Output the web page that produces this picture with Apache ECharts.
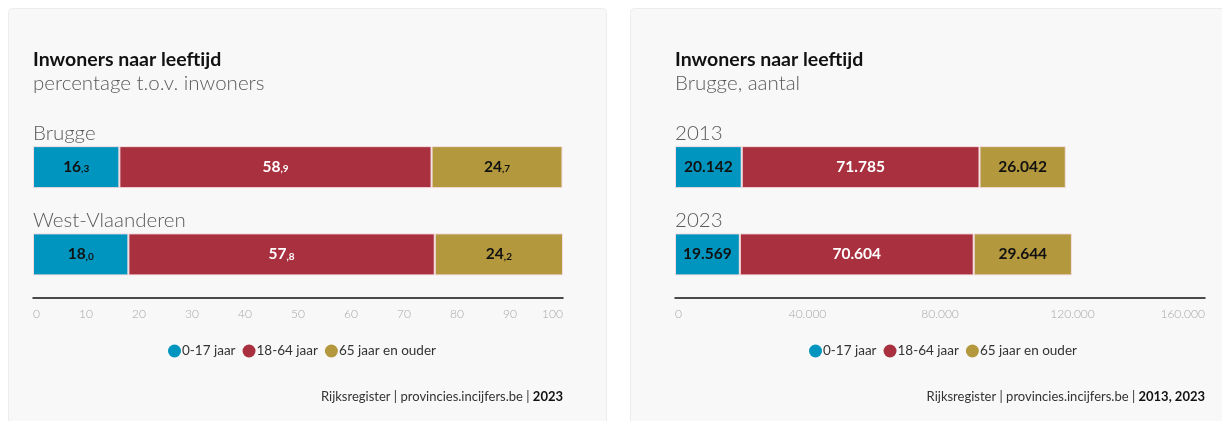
<!DOCTYPE html>
<html>
<head>
<meta charset="utf-8">
<script src="https://cdn.jsdelivr.net/npm/echarts@6/dist/echarts.min.js"></script>
<style>
  html, body { margin: 0; padding: 0; background: #ffffff; }
  #chart { width: 1222px; height: 421px; }
</style>
</head>
<body>
<div id="chart"></div>
<script>
// Age groups (series)
const ageGroups = ['0-17 jaar', '18-64 jaar', '65 jaar en ouder'];
const ageColors = ['#0095bf', '#a8303f', '#b3983d'];
const ageLabelColors = ['#111111', '#ffffff', '#111111'];

// Left chart: share of inhabitants (%)
const pctCategories = ['Brugge', 'West-Vlaanderen'];
const pctYoung = [16.3, 18.0];
const pctAdult = [58.9, 57.8];
const pctSenior = [24.7, 24.2];
const pctTicks = [0, 10, 20, 30, 40, 50, 60, 70, 80, 90, 100];

// Right chart: Brugge, absolute counts
const cntCategories = ['2013', '2023'];
const cntYoung = [20142, 19569];
const cntAdult = [71785, 70604];
const cntSenior = [26042, 29644];
const cntTicks = [0, 40000, 80000, 120000, 160000];

const FONT = 'Lato, "Open Sans", sans-serif';

function dots(n) {
  return String(Math.round(n)).replace(/\B(?=(\d{3})+(?!\d))/g, '.');
}
function pctLabel(v) {
  const s = v.toFixed(1).split('.');
  return '{a|' + s[0] + '}{b|,' + s[1] + '}';
}

function makeSeries(values, gridIdx, isPct) {
  return values.map((data, i) => ({
    name: ageGroups[i],
    type: 'bar',
    stack: 'g' + gridIdx,
    xAxisIndex: gridIdx,
    yAxisIndex: gridIdx,
    barWidth: 42,
    data: data,
    itemStyle: { color: ageColors[i], borderColor: '#f4dde0', borderWidth: 1 },
    label: {
      show: true,
      position: 'inside',
      formatter: p => isPct ? pctLabel(p.value) : dots(p.value),
      color: ageLabelColors[i],
      fontFamily: FONT,
      fontWeight: 'bold',
      fontSize: 15.5,
      rich: {
        a: { color: ageLabelColors[i], fontFamily: FONT, fontWeight: 'bold', fontSize: 15.5 },
        b: { color: ageLabelColors[i], fontFamily: FONT, fontWeight: 'bold', fontSize: 10, padding: [4, 0, 0, 0] }
      }
    },
    emphasis: { disabled: true }
  }));
}

function xAxis(gridIdx, interval, ticks, fmt) {
  return {
    gridIndex: gridIdx,
    type: 'value',
    min: ticks[0], max: ticks[ticks.length - 1], interval: interval,
    axisLine: { show: true, onZero: false, lineStyle: { color: '#111', width: 1.5 } },
    axisTick: { show: false },
    splitLine: { show: false },
    axisLabel: {
      color: '#a8a8a8', fontFamily: FONT, fontSize: 12, fontWeight: 300, margin: 10,
      alignMinLabel: 'left', alignMaxLabel: 'right',
      formatter: fmt
    }
  };
}

function yAxis(gridIdx, cats) {
  return {
    gridIndex: gridIdx,
    type: 'category',
    inverse: true,
    data: cats,
    axisLine: { show: false },
    axisTick: { show: false },
    axisLabel: {
      inside: true, margin: 0, align: 'left', verticalAlign: 'bottom',
      padding: [0, 0, 23, 0],
      color: '#5a5a5a', fontFamily: FONT, fontSize: 20.5, fontWeight: 300
    }
  };
}

function legend(left) {
  return {
    left: left, top: 344, padding: 0,
    icon: 'circle', itemWidth: 13, itemHeight: 13, itemGap: 7,
    selectedMode: false,
    itemStyle: { borderWidth: 0 },
    textStyle: { color: '#333', fontFamily: FONT, fontSize: 13.5, padding: [0, 0, 0, -4] },
    data: ageGroups
  };
}

const sourceStyle = {
  color: '#333', fontFamily: FONT, fontSize: 13, fontWeight: 'normal',
  rich: { b: { color: '#111', fontFamily: FONT, fontSize: 13, fontWeight: 'bold' } }
};
const headStyle = { color: '#111', fontFamily: FONT, fontSize: 19.5, fontWeight: 'bold' };
const subStyle = { color: '#5a5a5a', fontFamily: FONT, fontSize: 20.5, fontWeight: 300 };

const chart = echarts.init(document.getElementById('chart'), null, { renderer: 'canvas' });
chart.setOption({
  animation: false,
  backgroundColor: '#ffffff',
  graphic: [
    { type: 'rect', shape: { x: 8.5, y: 8.5, width: 598, height: 440, r: 4 }, z: -10,
      style: { fill: '#f8f8f8', stroke: '#ececec', lineWidth: 1 } },
    { type: 'rect', shape: { x: 630.5, y: 8.5, width: 620, height: 440, r: 4 }, z: -10,
      style: { fill: '#f8f8f8', stroke: '#ececec', lineWidth: 1 } }
  ],
  title: [
    { text: 'Inwoners naar leeftijd', subtext: 'percentage t.o.v. inwoners', left: 33, top: 50, padding: 0, itemGap: 3,
      textStyle: headStyle, subtextStyle: subStyle },
    { text: 'Inwoners naar leeftijd', subtext: 'Brugge, aantal', left: 675, top: 50, padding: 0, itemGap: 3,
      textStyle: headStyle, subtextStyle: subStyle },
    { text: 'Rijksregister | provincies.incijfers.be | {b|2023}', right: 1222 - 563, top: 390, padding: 0,
      textStyle: sourceStyle },
    { text: 'Rijksregister | provincies.incijfers.be | {b|2013, 2023}', right: 1222 - 1205, top: 390, padding: 0,
      textStyle: sourceStyle }
  ],
  legend: [legend(168), legend(809)],
  grid: [
    { left: 33, width: 530, top: 123.5, height: 174.5, containLabel: false },
    { left: 675, width: 530, top: 123.5, height: 174.5, containLabel: false }
  ],
  xAxis: [
    xAxis(0, 10, pctTicks, v => String(v)),
    xAxis(1, 40000, cntTicks, v => dots(v))
  ],
  yAxis: [yAxis(0, pctCategories), yAxis(1, cntCategories)],
  series: [
    ...makeSeries([pctYoung, pctAdult, pctSenior], 0, true),
    ...makeSeries([cntYoung, cntAdult, cntSenior], 1, false)
  ]
});
</script>
</body>
</html>
